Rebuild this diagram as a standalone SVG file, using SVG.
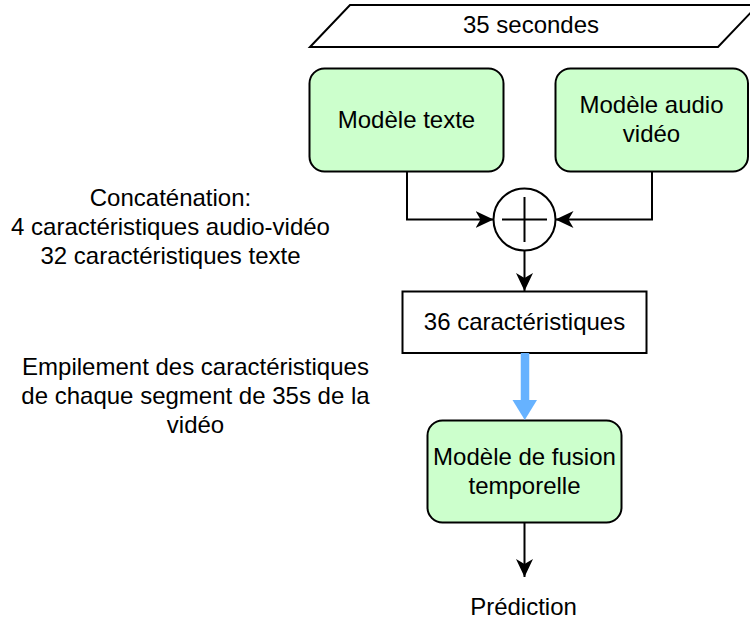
<svg xmlns="http://www.w3.org/2000/svg" width="750" height="619" viewBox="0 0 750 619">
<style>
text{font-family:"Liberation Sans",Arial,sans-serif;font-size:24px;fill:#000;text-anchor:middle}
.box{fill:#CCFFCC;stroke:#000;stroke-width:2}
.plain{fill:#fff;stroke:#000;stroke-width:2}
.edge{fill:none;stroke:#000;stroke-width:2}
</style>
<defs>
<marker id="arr" viewBox="0 0 18 17" refX="18" refY="8.5" markerWidth="18" markerHeight="17" markerUnits="userSpaceOnUse" orient="auto">
<path d="M0,0 L18,8.5 L0,17 L5,8.5 Z" fill="#000"/>
</marker>
</defs>
<rect width="750" height="619" fill="#fff"/>
<g id="input">
<polygon points="310,47 350,5 758,5 718,47" class="plain"/>
<text x="531" y="33">35 secondes</text>
</g>
<g id="text-model">
<rect x="309.5" y="68.5" width="194" height="103" rx="15" class="box"/>
<text x="406.5" y="128">Modèle texte</text>
</g>
<g id="av-model">
<rect x="555.5" y="68.5" width="192.5" height="103" rx="15" class="box"/>
<text x="651.5" y="113">Modèle audio</text>
<text x="651.5" y="142">vidéo</text>
</g>
<g id="sum">
<circle cx="524.5" cy="219.5" r="31" class="plain"/>
<line x1="502" y1="219.5" x2="547" y2="219.5" class="edge"/>
<line x1="524.5" y1="197" x2="524.5" y2="242" class="edge"/>
</g>
<g id="features">
<rect x="402.5" y="291.5" width="244" height="61.5" class="plain"/>
<text x="524.5" y="330">36 caractéristiques</text>
</g>
<g id="fusion">
<rect x="427.5" y="420.5" width="194" height="102" rx="15" class="box"/>
<text x="524.5" y="465">Modèle de fusion</text>
<text x="524.5" y="494">temporelle</text>
</g>
<g id="prediction">
<text x="523.5" y="615">Prédiction</text>
</g>
<g id="label-concat">
<text x="170.5" y="206">Concaténation:</text>
<text x="170.5" y="235">4 caractéristiques audio-vidéo</text>
<text x="170.5" y="264">32 caractéristiques texte</text>
</g>
<g id="label-stack">
<text x="195.5" y="375">Empilement des caractéristiques</text>
<text x="195.5" y="404">de chaque segment de 35s de la</text>
<text x="195.5" y="433">vidéo</text>
</g>
<g id="connectors">
<polyline points="407,172 407,219.5 493.5,219.5" class="edge" marker-end="url(#arr)"/>
<polyline points="652,172 652,219.5 555.5,219.5" class="edge" marker-end="url(#arr)"/>
<line x1="524.5" y1="250.5" x2="524.5" y2="291" class="edge" marker-end="url(#arr)"/>
<line x1="525" y1="353" x2="525" y2="402" stroke="#66B2FF" stroke-width="8.5"/>
<polygon points="512.5,400 537,400 524.75,420" fill="#66B2FF"/>
<line x1="524.5" y1="522.5" x2="524.5" y2="577" class="edge" marker-end="url(#arr)"/>
</g>
</svg>
